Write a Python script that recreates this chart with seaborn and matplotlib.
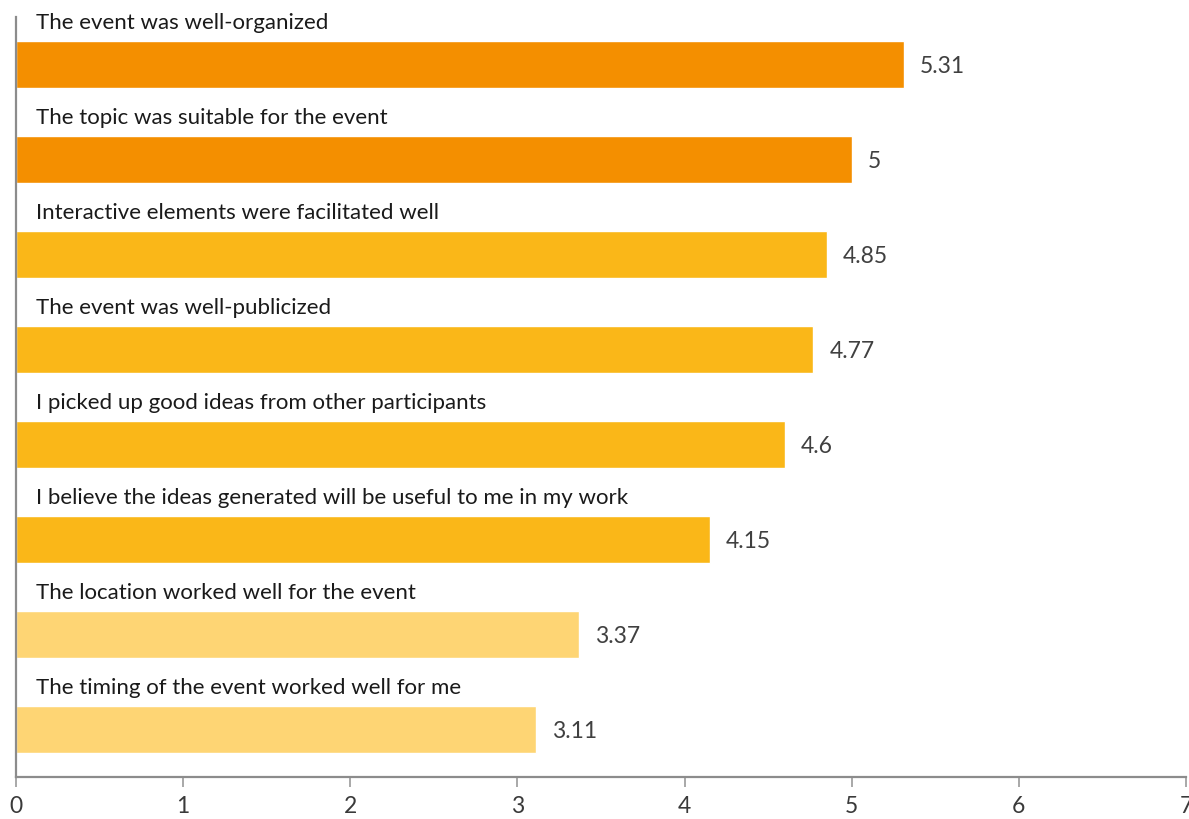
import matplotlib
matplotlib.use("Agg")
import matplotlib.pyplot as plt
import matplotlib.transforms as mtransforms
import seaborn as sns
import pandas as pd

# Survey statements and their mean ratings
statements = [
    "The event was well-organized",
    "The topic was suitable for the event",
    "Interactive elements were facilitated well",
    "The event was well-publicized",
    "I picked up good ideas from other participants",
    "I believe the ideas generated will be useful to me in my work",
    "The location worked well for the event",
    "The timing of the event worked well for me",
]
scores = [5.31, 5, 4.85, 4.77, 4.6, 4.15, 3.37, 3.11]
value_labels = ["5.31", "5", "4.85", "4.77", "4.6", "4.15", "3.37", "3.11"]
x_ticks = [0, 1, 2, 3, 4, 5, 6, 7]

# Rating tier colours: top, middle, lower
bar_colors = ["#F48F00", "#F48F00", "#FAB718", "#FAB718",
              "#FAB718", "#FAB718", "#FED574", "#FED574"]

sns.set_theme(style="white")
plt.rcParams["font.family"] = ["Lato", "DejaVu Sans"]

df = pd.DataFrame({"statement": statements, "score": scores})

fig = plt.figure(figsize=(11.89, 8.2), dpi=100)
ax = fig.add_axes([16 / 1189, 1 - 778 / 820, (1186 - 16) / 1189, (778 - 18) / 820])

sns.barplot(data=df, y="statement", x="score", hue="statement",
            palette=bar_colors, legend=False, orient="h",
            width=0.505, saturation=1, ax=ax)

ax.set_xlim(0, 7)
ax.set_ylim(len(statements) - 0.5, -0.5)
ax.set_xticks(x_ticks)
ax.set_xticklabels([str(t) for t in x_ticks], fontsize=16.5, color="#3a3a3a")
ax.set_yticks([])
ax.set_xlabel("")
ax.set_ylabel("")

for side in ["top", "right"]:
    ax.spines[side].set_visible(False)
for side in ["left", "bottom"]:
    ax.spines[side].set_color("#8c8c8c")
    ax.spines[side].set_linewidth(1.6)

ax.tick_params(axis="x", direction="out", length=7, width=1.2,
               color="#9a9a9a", pad=6, bottom=True)

# Statement text above each bar, value to the right of each bar
label_offset = mtransforms.offset_copy(ax.transData, fig=fig, x=20, y=0, units="dots")
value_offset = mtransforms.offset_copy(ax.transData, fig=fig, x=16, y=0, units="dots")
for i, (text, val, vlab) in enumerate(zip(statements, scores, value_labels)):
    ax.text(0, i - 0.385, text, transform=label_offset, ha="left", va="baseline",
            fontsize=16, color="#1a1a1a", clip_on=False)
    ax.text(val, i + 0.01, vlab, transform=value_offset, ha="left", va="center",
            fontsize=16.5, color="#404040", clip_on=False)

fig.savefig("out.png", dpi=100)
